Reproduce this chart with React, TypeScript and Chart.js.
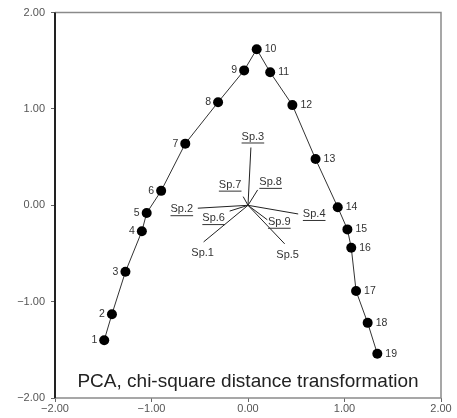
import React, { useEffect, useRef } from "react";
import { Chart, registerables } from "chart.js";

Chart.register(...registerables);

const siteLabels = ["1","2","3","4","5","6","7","8","9","10","11","12","13","14","15","16","17","18","19"];
const siteX = [-1.49, -1.41, -1.27, -1.10, -1.05, -0.90, -0.65, -0.31, -0.04, 0.09, 0.23, 0.46, 0.70, 0.93, 1.03, 1.07, 1.12, 1.24, 1.34];
const siteY = [-1.40, -1.13, -0.69, -0.27, -0.08, 0.15, 0.64, 1.07, 1.40, 1.62, 1.38, 1.04, 0.48, -0.02, -0.25, -0.44, -0.89, -1.22, -1.54];

const speciesLabels = ["Sp.1", "Sp.2", "Sp.3", "Sp.4", "Sp.5", "Sp.6", "Sp.7", "Sp.8", "Sp.9"];
const speciesX = [-0.46, -0.52, 0.03, 0.52, 0.38, -0.19, -0.05, 0.10, 0.20];
const speciesY = [-0.38, -0.03, 0.60, -0.09, -0.40, -0.06, 0.09, 0.16, -0.15];
const speciesUnderlined = [false, true, true, true, false, true, true, true, true];

const axisTicks = [-2, -1, 0, 1, 2];
const titleText = "PCA, chi-square distance transformation";

// label placement (styling, in px)
const speciesLabelOffsets: [number, number][] = [
  [-1, 11], [-16, 1], [2, -11], [16, 0], [3, 11], [-16, 7], [-13, -12], [13, -8], [12, 2],
];

const fmt = (v: number) => {
  const s = Math.abs(v).toFixed(2);
  return v < 0 ? "\u2212" + s : s;
};

const FONT = "'Liberation Sans', Arial, sans-serif";

const labelPlugin = {
  id: "labelPlugin",
  beforeDraw(chart: any) {
    const { ctx } = chart;
    ctx.save();
    ctx.fillStyle = "#fff";
    ctx.fillRect(0, 0, chart.width, chart.height);
    ctx.restore();
  },
  afterDatasetsDraw(chart: any) {
    const { ctx, chartArea, scales } = chart;
    const xs = scales.x;
    const ys = scales.y;
    ctx.save();
    // frame
    ctx.strokeStyle = "#8a8a8a";
    ctx.lineWidth = 1.5;
    ctx.beginPath();
    ctx.moveTo(chartArea.left, chartArea.top);
    ctx.lineTo(chartArea.right, chartArea.top);
    ctx.lineTo(chartArea.right, chartArea.bottom);
    ctx.lineTo(chartArea.left, chartArea.bottom);
    ctx.stroke();
    ctx.strokeStyle = "#222";
    ctx.lineWidth = 2;
    ctx.beginPath();
    ctx.moveTo(chartArea.left, chartArea.top);
    ctx.lineTo(chartArea.left, chartArea.bottom);
    ctx.stroke();

    // site labels
    ctx.font = "10.5px " + FONT;
    ctx.fillStyle = "#333";
    ctx.textBaseline = "middle";
    siteLabels.forEach((lab, i) => {
      const px = xs.getPixelForValue(siteX[i]);
      const py = ys.getPixelForValue(siteY[i]);
      if (i < 9) {
        ctx.textAlign = "right";
        ctx.fillText(lab, px - 7, py);
      } else {
        ctx.textAlign = "left";
        ctx.fillText(lab, px + 8, py);
      }
    });

    // species labels
    ctx.font = "11px " + FONT;
    ctx.textAlign = "center";
    ctx.textBaseline = "middle";
    speciesLabels.forEach((lab, i) => {
      const px = xs.getPixelForValue(speciesX[i]) + speciesLabelOffsets[i][0];
      const py = ys.getPixelForValue(speciesY[i]) + speciesLabelOffsets[i][1];
      ctx.fillStyle = "#333";
      ctx.fillText(lab, px, py);
      if (speciesUnderlined[i]) {
        const w = ctx.measureText(lab).width;
        ctx.strokeStyle = "#333";
        ctx.lineWidth = 1;
        ctx.beginPath();
        ctx.moveTo(px - w / 2, py + 6.5);
        ctx.lineTo(px + w / 2, py + 6.5);
        ctx.stroke();
      }
    });

    // title text
    ctx.font = "19px " + FONT;
    ctx.fillStyle = "#222";
    ctx.textAlign = "center";
    ctx.textBaseline = "middle";
    ctx.fillText(titleText, (chartArea.left + chartArea.right) / 2, chartArea.bottom - 16);
    ctx.restore();
  },
};

export default function App() {
  const ref = useRef<HTMLCanvasElement | null>(null);
  useEffect(() => {
    if (!ref.current) return;
    const siteData = siteX.map((x, i) => ({ x, y: siteY[i] }));
    const speciesSets = speciesLabels.map((lab, i) => ({
      label: lab,
      data: [{ x: 0, y: 0 }, { x: speciesX[i], y: speciesY[i] }],
      showLine: true,
      borderColor: "#222",
      borderWidth: 1,
      pointRadius: 0,
    }));
    const tickFont = { size: 11, family: FONT };
    const chart = new Chart(ref.current, {
      type: "scatter",
      data: {
        datasets: [
          ...speciesSets,
          {
            label: "sites",
            data: siteData,
            showLine: true,
            borderColor: "#333",
            borderWidth: 1,
            pointRadius: 5,
            pointBackgroundColor: "#000",
            pointBorderColor: "#000",
            pointBorderWidth: 0,
          },
        ] as any,
      },
      options: {
        animation: false,
        responsive: false,
        layout: { padding: { top: 12, right: 16, left: 0, bottom: 0 } },
        plugins: { legend: { display: false }, tooltip: { enabled: false } },
        scales: {
          x: {
            type: "linear",
            min: -2,
            max: 2,
            afterFit: (s: any) => { s.height = 20; },
            afterBuildTicks: (s: any) => { s.ticks = axisTicks.map((v) => ({ value: v })); },
            ticks: {
              callback: (v: any) => fmt(Number(v)),
              font: tickFont,
              color: "#555",
              padding: 0,
              maxRotation: 0,
            },
            grid: { drawOnChartArea: false, tickLength: 4, color: "#666" },
            border: { display: false },
          },
          y: {
            type: "linear",
            min: -2,
            max: 2,
            afterFit: (s: any) => { s.width = 55; },
            afterBuildTicks: (s: any) => { s.ticks = axisTicks.map((v) => ({ value: v })); },
            ticks: {
              callback: (v: any) => fmt(Number(v)),
              font: tickFont,
              color: "#555",
              padding: 6,
            },
            grid: { drawOnChartArea: false, tickLength: 4, color: "#666" },
            border: { display: false },
          },
        },
      },
      plugins: [labelPlugin],
    });
    return () => chart.destroy();
  }, []);
  return (
    <div style={{ position: "absolute", left: 0, top: 0, width: 457, height: 418, background: "#fff" }}>
      <canvas ref={ref} width={457} height={418} style={{ display: "block" }} />
    </div>
  );
}
